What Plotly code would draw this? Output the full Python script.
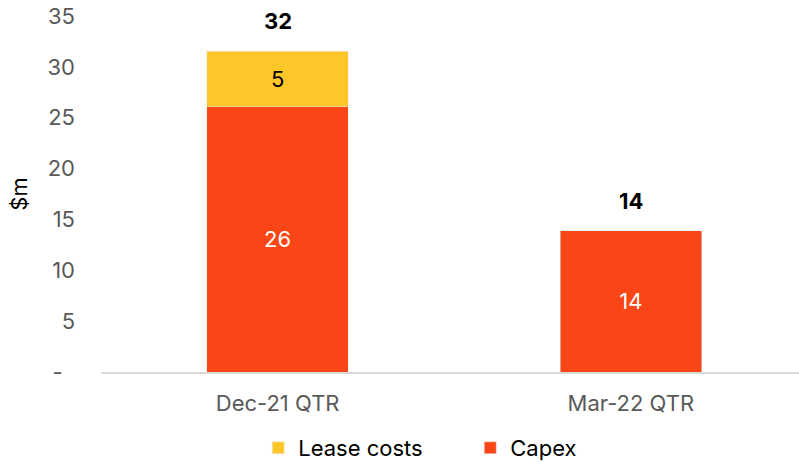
import plotly.graph_objects as go

categories = ["Dec-21 QTR", "Mar-22 QTR"]
capex = [26.1, 13.9]
lease = [5.45, 0]
totals = [c + l for c, l in zip(capex, lease)]
tick_vals = [0, 5, 10, 15, 20, 25, 30, 35]
tick_text = ["-\u00a0\u00a0", "5", "10", "15", "20", "25", "30", "35"]

FONT = "Inter, Lato, sans-serif"
CAPEX_C = "#FA4616"
LEASE_C = "#FFC629"
FS = 22

fig = go.Figure()
fig.add_trace(go.Bar(
    x=categories, y=capex, name="Capex", marker_color=CAPEX_C,
    width=0.40, text=[f"{v:.0f}" for v in capex], textposition="inside",
    insidetextanchor="middle", textfont=dict(color="white", size=FS, family=FONT),
    legendrank=2,
))
fig.add_trace(go.Bar(
    x=categories, y=lease, name="Lease costs", marker_color=LEASE_C,
    width=0.40, text=[f"{v:.0f}" if v > 0 else "" for v in lease], textposition="inside",
    insidetextanchor="middle", textfont=dict(color="black", size=FS, family=FONT),
    legendrank=1,
))
for c, t in zip(categories, totals):
    fig.add_annotation(x=c, y=t, text=f"<b>{t:.0f}</b>", showarrow=False,
                       yanchor="bottom", yshift=15,
                       font=dict(size=FS, color="black", family=FONT))

fig.update_layout(
    barmode="stack",
    width=799, height=462,
    margin=dict(l=101, r=0, t=16, b=90),
    paper_bgcolor="white", plot_bgcolor="white",
    font=dict(family=FONT, size=FS, color="#595959"),
    showlegend=True,
    legend=dict(orientation="h", x=0.529, xanchor="center",
                yref="container", y=1 - 448 / 462, yanchor="middle",
                font=dict(size=FS, color="black", family=FONT),
                traceorder="normal", entrywidthmode="pixels", entrywidth=167),
    uniformtext=dict(mode=False),
)
fig.update_xaxes(range=[-0.5, 1.476], showline=True, linecolor="#D9D9D9", linewidth=2,
                 showgrid=False, ticks="", automargin=False, ticklabelstandoff=11,
                 tickfont=dict(size=FS, color="#595959"))
fig.update_yaxes(range=[0, 35], tickvals=tick_vals, ticktext=tick_text, showgrid=False,
                 zeroline=False, showline=False, ticks="", ticklabelstandoff=25,
                 automargin=False, ticklabeloverflow="allow",
                 title=dict(text="$m", font=dict(size=FS, color="black"), standoff=13),
                 tickfont=dict(size=FS, color="#595959"))

fig.write_html("out.html", config={"displayModeBar": False},
               post_script="document.body.style.margin='0';")
